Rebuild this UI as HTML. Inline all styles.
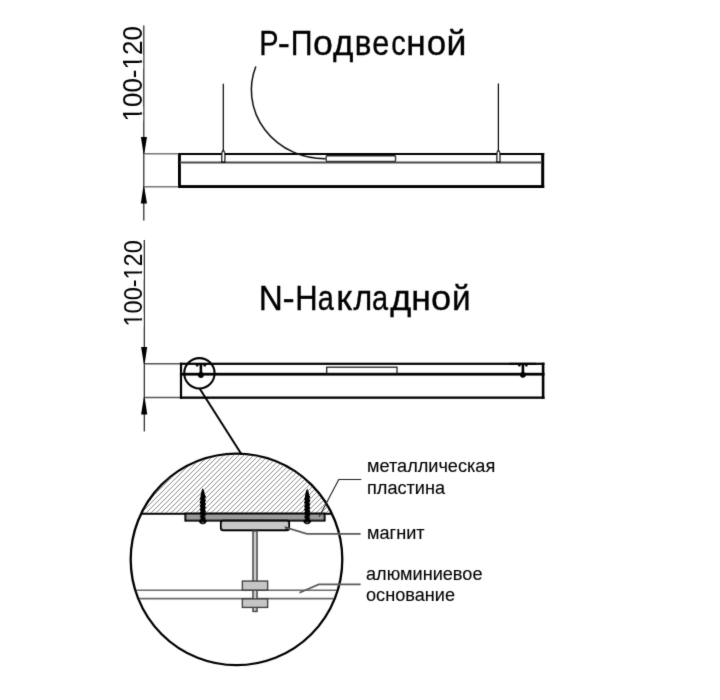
<!DOCTYPE html>
<html><head><meta charset="utf-8">
<style>
html,body{margin:0;padding:0;background:#fff;width:720px;height:700px;overflow:hidden}
svg{display:block}
text{font-family:"Liberation Sans",sans-serif;fill:#000}
</style></head>
<body>
<svg width="720" height="700" viewBox="0 0 720 700">
<defs>
<filter id="soft" x="0" y="0" width="720" height="700" filterUnits="userSpaceOnUse"><feConvolveMatrix order="3" kernelMatrix="0.01134 0.08382 0.01134 0.08382 0.61935 0.08382 0.01134 0.08382 0.01134" edgeMode="duplicate" preserveAlpha="false"/></filter>
<clipPath id="bc"><circle cx="236.5" cy="559.4" r="105"/></clipPath>
<pattern id="hatch" patternUnits="userSpaceOnUse" x="4.0" y="0" width="5" height="5">
<path d="M-1,1 L1,-1 M0,5 L5,0 M4,6 L6,4" stroke="#8c8c8c" stroke-width="1.0"/>
</pattern>
</defs>
<rect width="720" height="700" fill="#fff"/>
<g filter="url(#soft)">

<!-- ===== Section 1 ===== -->
<g id="t1" font-size="34.5" stroke="#000" stroke-width="0.35" transform="translate(0,0.4)">
<text transform="translate(259.31,55) scale(0.840,1)">P</text>
<text transform="translate(277.78,55) scale(1.057,1)">-</text>
<text transform="translate(290.65,55) scale(0.877,1)">П</text>
<text transform="translate(312.90,55) scale(1.034,1)">о</text>
<text transform="translate(332.96,55) scale(1.015,1)">д</text>
<text transform="translate(354.73,55) scale(0.907,1)">в</text>
<text transform="translate(372.30,55) scale(0.890,1)">е</text>
<text transform="translate(391.22,55) scale(0.840,1)">с</text>
<text transform="translate(406.25,55) scale(1.023,1)">н</text>
<text transform="translate(426.73,55) scale(1.013,1)">о</text>
<text transform="translate(446.62,55) scale(1.035,1)">й</text>
</g>
<line x1="143.8" y1="25.5" x2="143.8" y2="220.6" stroke="#111" stroke-width="1.1"/>
<line x1="144" y1="153.7" x2="178" y2="153.7" stroke="#777" stroke-width="1.4"/>
<line x1="144" y1="186.8" x2="178" y2="186.8" stroke="#777" stroke-width="1.4"/>
<polygon points="140.9,136.9 147,136.9 144.2,154.2 143.6,154.2" fill="#000"/>
<polygon points="140.8,203.6 147,203.6 144.1,186.3 143.4,186.3" fill="#000"/>
<text id="d1" transform="translate(141.8,121.5) rotate(-90) scale(1,1.07)" font-size="26">100-120</text>

<g fill="#000">
<rect x="178" y="153" width="366.2" height="2"/>
<rect x="178" y="153" width="2.9" height="35"/>
<rect x="541.2" y="153" width="3" height="35"/>
<rect x="178" y="185.1" width="366.2" height="2.9"/>
</g>
<line x1="180" y1="162.4" x2="541.5" y2="162.4" stroke="#4a4a4a" stroke-width="2"/>
<line x1="223.3" y1="83.8" x2="223.3" y2="154" stroke="#000" stroke-width="1.2"/>
<line x1="498.4" y1="83.4" x2="498.4" y2="154" stroke="#000" stroke-width="1.2"/>
<path d="M221.8,162 L221.8,154.5 Q221.8,151.5 223.3,150.3 Q224.8,151.5 224.8,154.5 L224.8,162 Z" fill="#fff" stroke="#000" stroke-width="1.3"/>
<path d="M496.9,162 L496.9,154.5 Q496.9,151.5 498.4,150.3 Q499.9,151.5 499.9,154.5 L499.9,162 Z" fill="#fff" stroke="#000" stroke-width="1.3"/>
<rect x="326.3" y="155.8" width="69.2" height="5.6" rx="1" fill="#fff" stroke="#111" stroke-width="1.4"/>
<path d="M255.8,66.5 A73.4,68.7 0 0 0 325.6,158.7" fill="none" stroke="#111" stroke-width="1.5"/>

<!-- ===== Section 2 ===== -->
<g id="t2" font-size="34.5" stroke="#000" stroke-width="0.35" transform="translate(0,0.3)">
<text transform="translate(258.87,309.6) scale(0.965,1)">N</text>
<text transform="translate(282.61,309.6) scale(1.060,1)">-</text>
<text transform="translate(295.26,309.6) scale(0.898,1)">Н</text>
<text transform="translate(317.78,309.6) scale(0.840,1)">а</text>
<text transform="translate(336.27,309.6) scale(1.043,1)">к</text>
<text transform="translate(353.43,309.6) scale(0.929,1)">л</text>
<text transform="translate(371.93,309.6) scale(0.840,1)">а</text>
<text transform="translate(390.15,309.6) scale(1.047,1)">д</text>
<text transform="translate(411.34,309.6) scale(1.030,1)">н</text>
<text transform="translate(431.08,309.6) scale(1.050,1)">о</text>
<text transform="translate(451.89,309.6) scale(0.966,1)">й</text>
</g>
<line x1="144.3" y1="239.9" x2="144.3" y2="431.4" stroke="#111" stroke-width="1.1"/>
<line x1="144" y1="363.7" x2="180" y2="363.7" stroke="#555" stroke-width="1.4"/>
<line x1="144" y1="397.5" x2="180" y2="397.5" stroke="#555" stroke-width="1.4"/>
<polygon points="141.1,347.1 147.2,347.1 144.6,364.3 143.9,364.3" fill="#000"/>
<polygon points="141.1,414.6 147.3,414.6 144.6,397.1 143.9,397.1" fill="#000"/>
<text id="d2" transform="translate(141.9,326.5) rotate(-90) scale(1,1.07)" font-size="23.5">100-120</text>
<rect x="139.6" y="55.0" width="2.8" height="5.2" fill="#fff"/>
<rect x="139.6" y="62.7" width="2.8" height="5.6" fill="#fff"/>
<rect x="139.6" y="107.0" width="2.8" height="5.2" fill="#fff"/>
<rect x="139.6" y="114.7" width="2.8" height="5.6" fill="#fff"/>
<rect x="139.6" y="265.8" width="2.8" height="5.2" fill="#fff"/>
<rect x="139.6" y="273.5" width="2.8" height="5.6" fill="#fff"/>
<rect x="139.6" y="312.8" width="2.8" height="5.2" fill="#fff"/>
<rect x="139.6" y="320.5" width="2.8" height="5.6" fill="#fff"/>

<g fill="#000">
<rect x="179.9" y="362.7" width="364.6" height="2.2"/>
<rect x="179.9" y="362.7" width="2.2" height="36.1"/>
<rect x="541.8" y="362.7" width="2.6" height="36.1"/>
<rect x="179.9" y="396.5" width="364.6" height="2.3"/>
<rect x="179.9" y="372.8" width="364.6" height="2.8"/>
</g>
<rect x="326.7" y="367.2" width="70.3" height="6.6" fill="none" stroke="#111" stroke-width="1.2"/>
<g fill="#000">
<rect x="195" y="363.2" width="12" height="1.9"/>
<circle cx="197.2" cy="365.4" r="1.2"/>
<circle cx="204.8" cy="365.4" r="1.2"/>
<rect x="199.6" y="364" width="2.6" height="9.5"/>
<circle cx="200.9" cy="375" r="2.9"/>
<rect x="509.4" y="362.8" width="26.7" height="2.1"/>
<circle cx="519.4" cy="365.4" r="1.2"/>
<circle cx="526.4" cy="365.4" r="1.2"/>
<rect x="521.6" y="364" width="2.6" height="9.5"/>
<circle cx="522.9" cy="374.8" r="2.9"/>
</g>
<circle cx="199.4" cy="373.3" r="15.2" fill="none" stroke="#000" stroke-width="2.1"/>
<line x1="199.6" y1="388.5" x2="241" y2="453.5" stroke="#000" stroke-width="2"/>

<!-- ===== Section 3: detail circle ===== -->
<g clip-path="url(#bc)">
<rect x="120" y="440" width="240" height="73.6" fill="url(#hatch)"/>
<line x1="120" y1="513.8" x2="360" y2="513.8" stroke="#000" stroke-width="2.1"/>
<line x1="120" y1="590.3" x2="360" y2="590.3" stroke="#6a6a6a" stroke-width="1.6"/>
<line x1="120" y1="598.6" x2="360" y2="598.6" stroke="#6a6a6a" stroke-width="1.6"/>
</g>
<rect x="185.4" y="513.6" width="139.2" height="7" fill="#9a9a9a" stroke="#000" stroke-width="2"/>
<rect x="221" y="520.6" width="68" height="9.5" rx="2.2" fill="#c8c8c8" stroke="#000" stroke-width="2.1"/>
<rect x="253" y="531" width="4" height="80.4" fill="#cacaca" stroke="#444" stroke-width="1.5"/>
<rect x="242.4" y="581.1" width="25.2" height="9" fill="#c6c6c6" stroke="#383838" stroke-width="1.4"/>
<rect x="242.4" y="598.9" width="25.2" height="8.5" fill="#c6c6c6" stroke="#383838" stroke-width="1.4"/>
<!-- screws -->
<g fill="#000">
<path d="M202.80,488.10 L204.00,490.60 L205.10,495.10 L206.05,496.90 L205.00,498.70 L206.05,500.50 L205.00,502.30 L206.05,504.10 L205.00,505.90 L206.05,507.70 L205.00,509.50 L206.05,511.30 L205.00,513.10 L206.05,514.90 L205.00,516.70 L206.05,518.50 L205.00,520.30 L206.05,521.00 L200.60,521.00 L199.55,520.30 L200.60,518.50 L199.55,516.70 L200.60,514.90 L199.55,513.10 L200.60,511.30 L199.55,509.50 L200.60,507.70 L199.55,505.90 L200.60,504.10 L199.55,502.30 L200.60,500.50 L199.55,498.70 L200.60,496.90 L200.50,495.10 L201.60,490.60 Z"/>
<path d="M198.5,520 L207.1,520 A4.3,4.2 0 0 1 198.5,520 Z"/>
<path d="M307.20,488.40 L308.40,490.90 L309.50,495.40 L310.45,497.20 L309.40,499.00 L310.45,500.80 L309.40,502.60 L310.45,504.40 L309.40,506.20 L310.45,508.00 L309.40,509.80 L310.45,511.60 L309.40,513.40 L310.45,515.20 L309.40,517.00 L310.45,518.80 L309.40,520.60 L310.45,521.00 L305.00,521.00 L303.95,520.60 L305.00,518.80 L303.95,517.00 L305.00,515.20 L303.95,513.40 L305.00,511.60 L303.95,509.80 L305.00,508.00 L303.95,506.20 L305.00,504.40 L303.95,502.60 L305.00,500.80 L303.95,499.00 L305.00,497.20 L304.90,495.40 L306.00,490.90 Z"/>
<path d="M302.9,520 L311.5,520 A4.3,4.2 0 0 1 302.9,520 Z"/>
</g>
<g fill="#555"><ellipse cx="202.8" cy="522.6" rx="1.6" ry="0.7"/><ellipse cx="307.2" cy="522.6" rx="1.6" ry="0.7"/></g>
<circle cx="236.5" cy="559.4" r="105.8" fill="none" stroke="#000" stroke-width="2.3"/>

<g fill="none">
<polyline points="319.2,516.7 338.75,479.5 361.25,479.5" stroke="#222" stroke-width="1.15"/>
<polyline points="285.5,527.4 306.9,533.9 360.6,533.9" stroke="#5a5a5a" stroke-width="1.7"/>
<polyline points="299.4,592.75 318.75,584.4 360.6,584.4" stroke="#5a5a5a" stroke-width="1.7"/>
</g>
<polygon points="284.3,526.6 288,527.2 285.6,529" fill="#222"/>
<g font-size="19" fill="#000" stroke="#000" stroke-width="0.12">
<text transform="translate(367,472.2) scale(0.955,1)">металлическая</text>
<text transform="translate(367,493.9) scale(0.955,1)">пластина</text>
<text transform="translate(367,538.6) scale(0.955,1)">магнит</text>
<text transform="translate(366,579.9) scale(0.955,1)">алюминиевое</text>
<text transform="translate(366,600.6) scale(0.955,1)">основание</text>
</g>
</g>
</svg>
</body></html>
